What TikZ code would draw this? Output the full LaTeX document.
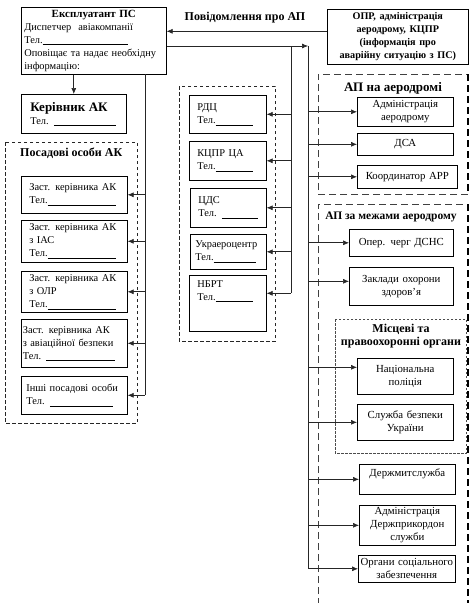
\documentclass[tikz,border=0pt]{standalone}
\usepackage{fontspec}
\setmainfont{Liberation Serif}
\usetikzlibrary{arrows.meta}
\newcommand\telline[1]{\rule[-1.5pt]{#1}{0.4pt}}
% left-aligned box: [pad]{name}{x1}{y1}{x2}{y2}{text}
\newcommand\lbox[7][8]{%
  \pgfmathsetmacro\bw{#5-#3}\pgfmathsetmacro\bh{#6-#4}\pgfmathsetmacro\tw{#5-#3-2*#1}%
  \node[bx, anchor=north west, minimum width=\bw pt, minimum height=\bh pt,
        inner xsep=#1pt, text width=\tw pt, align=left] (#2) at (#3,#4) {#7};}
% centred box: {name}{x1}{y1}{x2}{y2}{text}
\newcommand\cbox[6]{%
  \pgfmathsetmacro\bw{#4-#2}\pgfmathsetmacro\bh{#5-#3}\pgfmathsetmacro\tw{#4-#2-2}%
  \node[bx, anchor=north west, minimum width=\bw pt, minimum height=\bh pt,
        inner xsep=1pt, text width=\tw pt, align=center,
        font=\fontsize{10.8}{13}\selectfont] (#1) at (#2,#3) {#6};}
\begin{document}
\begin{tikzpicture}[x=1pt,y=-1pt,
  font=\fontsize{10.4}{13}\selectfont,
  bx/.style={draw=black, line width=0.6pt, inner ysep=1pt, fill=white},
  conn/.style={draw=black!85, line width=0.65pt},
  arr/.style={conn, -{Latex[length=6pt,width=5pt]}},
  grpA/.style={draw=black!85, line width=0.6pt, dash pattern=on 3.5pt off 2.5pt},
  grpB/.style={draw=black!75, line width=0.7pt, dash pattern=on 7pt off 4pt},
  grpC/.style={draw=black!70, line width=0.5pt, dash pattern=on 2.5pt off 1.5pt},
  thickedge/.style={draw=black, line width=2pt, dash pattern=on 7pt off 4pt},
  ttl/.style={font=\fontsize{12}{14}\selectfont\bfseries, inner sep=0pt}]
\useasboundingbox (0,0) rectangle (475,603);

% group frames
\draw[grpA] (5,142) rectangle (137,423);
\draw[grpA] (179,86) rectangle (275,341);
\draw[grpB] (468,194) -- (318,194) -- (318,74) -- (468,74);
\draw[thickedge] (468,74) -- (468,194);
\draw[grpB] (318,605) -- (318,204) -- (468,204);
\draw[thickedge] (468,204) -- (468,605);
\draw[grpC] (335,319) rectangle (466,453);

% group titles
\node[ttl, anchor=west] (tPos) at (20,153) {Посадові особи АК};
\node[ttl, font=\fontsize{13}{15}\selectfont\bfseries] (tAer) at (393,88) {АП на аеродромі};
\node[ttl, font=\fontsize{11.5}{14}\selectfont\bfseries] (tOut) at (391,217) {АП за межами аеродрому};
\node[ttl, align=center, font=\fontsize{12}{12.5}\selectfont\bfseries] (tLoc) at (401,336) {Місцеві та\\правоохоронні органи};

% top boxes
\lbox[3]{expl}{21}{7}{166}{74}{\makebox[\linewidth][c]{\fontsize{11}{13}\selectfont\bfseries Експлуатант ПС}\\Диспетчер\ \ авіакомпанії\\Тел.\telline{85pt}\\Оповіщає та надає необхідну\\інформацію:}
\cbox{opr}{327}{9}{468}{64}{\fontsize{10.2}{13}\selectfont\bfseries ОПР, адміністрація\\аеродрому, КЦПР\\(інформація про\\аварійну ситуацію з ПС)}
\node[ttl] (notif) at (245,18) {Повідомлення про АП};

% left column
\lbox[9]{ker}{21}{94}{126}{133}{{\fontsize{13}{14}\selectfont\bfseries Керівник АК}\\Тел. \telline{62pt}}
\lbox[8]{L1}{21}{176}{127}{213}{Заст. керівника АК\\Тел.\telline{68pt}}
\lbox[8]{L2}{21}{220}{127}{262}{Заст. керівника АК\\з ІАС\\Тел.\telline{68pt}}
\lbox[8]{L3}{21}{271}{127}{312}{Заст. керівника АК\\з ОЛР\\Тел.\telline{68pt}}
\lbox[1.5]{L4}{21}{319}{127}{367}{Заст. керівника АК\\з авіаційної безпеки\\Тел. \telline{69pt}}
\lbox[5]{L5}{21}{376}{127}{414}{Інші посадові особи\\Тел. \telline{63pt}}

% middle column
\lbox[8]{M1}{189}{95}{266}{133}{РДЦ\\Тел.\telline{37pt}}
\lbox[8]{M2}{189}{141}{266}{180}{КЦПР ЦА\\Тел.\telline{37pt}}
\lbox[8]{M3}{190}{188}{266}{227}{ЦДС\\Тел. \telline{36pt}}
\lbox[5]{M4}{190}{234}{266}{269}{Украероцентр\\Тел.\telline{42pt}}
\lbox[8]{M5}{189}{275}{266}{331}{НБРТ\\Тел.\telline{37pt}\\\mbox{}\\\mbox{}}

% right column
\cbox{R1}{357}{97}{453}{126}{Адміністрація\\аеродрому}
\cbox{R2}{357}{133}{453}{155}{ДСА}
\cbox{R3}{357}{165}{457}{188}{Координатор АРР}
\cbox{R4}{349}{229}{453}{256}{Опер. черг ДСНС}
\cbox{R5}{349}{267}{453}{305}{Заклади охорони\\здоров’я}
\cbox{R6}{357}{358}{453}{394}{Національна\\поліція}
\cbox{R7}{357}{404}{453}{440}{Служба безпеки\\України}
\cbox{R8}{359}{464}{455}{494}{Держмитслужба\\\mbox{}}
\cbox{R9}{359}{505}{455}{545}{Адміністрація\\Держприкордон\\служби}
\cbox{R10}{358}{555}{455}{582}{Органи соціального\\забезпечення}

% trunk coordinates
\coordinate (ltop) at (145,74);
\coordinate (mtop) at (291,46);
\coordinate (rtop) at (308,46);
\coordinate (nA) at ([yshift=5.5pt]opr.west);

% top connectors
\draw[arr] (nA) -- (nA -| expl.east);
\draw[arr] (expl.east |- rtop) -- (rtop);
\draw[arr] (ker.north |- expl.south) -- (ker.north);

% left trunk
\draw[conn] (ltop) -- (ltop |- L5.east);
\foreach \n in {L1,L2,L3,L4,L5} \draw[arr] (\n.east -| ltop) -- (\n.east);

% middle trunk
\coordinate (m5) at ([yshift=10pt]M5.east);
\draw[conn] (mtop) -- (mtop |- m5);
\foreach \n in {M1,M2,M3,M4} \draw[arr] (\n.east -| mtop) -- (\n.east);
\draw[arr] (m5 -| mtop) -- (m5);

% right trunk
\draw[conn] (rtop) -- (rtop |- R10.west);
\coordinate (r5) at ([yshift=5pt]R5.west);
\coordinate (r6) at ([yshift=9pt]R6.west);
\foreach \n in {R1,R2,R3,R4,R7,R8,R9,R10} \draw[arr] (\n.west -| rtop) -- (\n.west);
\draw[arr] (r5 -| rtop) -- (r5);
\draw[arr] (r6 -| rtop) -- (r6);
\end{tikzpicture}
\end{document}
